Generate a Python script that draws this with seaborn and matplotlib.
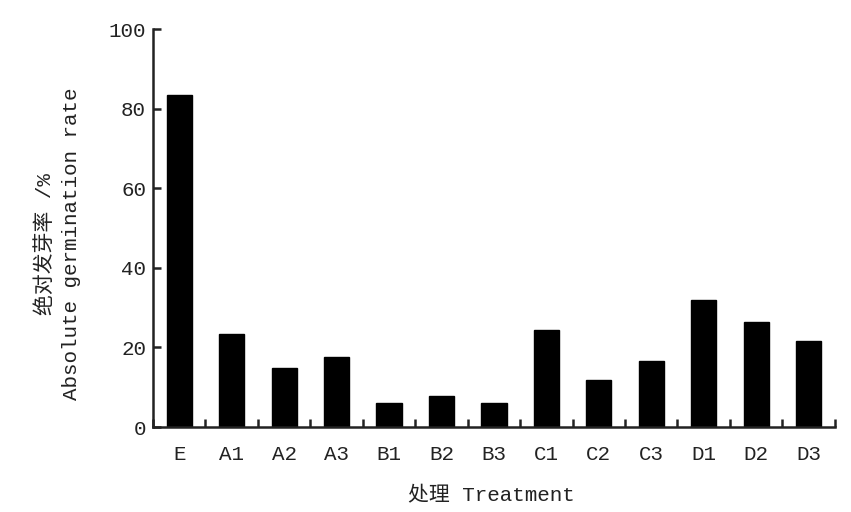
import numpy as np
import pandas as pd
import matplotlib
matplotlib.use('Agg')
import matplotlib.pyplot as plt
import seaborn as sns

# dados
treatments = ['E', 'A1', 'A2', 'A3', 'B1', 'B2', 'B3', 'C1', 'C2', 'C3', 'D1', 'D2', 'D3']
germination = [83.4, 23.5, 14.8, 17.7, 6.0, 7.8, 6.0, 24.4, 11.8, 16.6, 31.9, 26.3, 21.6]
y_ticks = [0, 20, 40, 60, 80, 100]

df = pd.DataFrame({'Treatment': treatments, 'Rate': germination})

sns.set_style('ticks')
plt.rcParams['font.family'] = ['Liberation Mono', 'Noto Sans CJK SC', 'DejaVu Sans']

fig = plt.figure(figsize=(8.51, 5.12), dpi=100)
ax = fig.add_axes([0.1798, 0.166, 0.8012, 0.777])

sns.barplot(data=df, x='Treatment', y='Rate', color='black', width=0.48,
            saturation=1, edgecolor='black', ax=ax)

ax.set_ylim(0, 100)
ax.set_xlim(-0.5, len(treatments) - 0.5)
ax.set_yticks(y_ticks)
ax.set_xticks(np.arange(-0.5, len(treatments)), minor=True)

for s in ['top', 'right']:
    ax.spines[s].set_visible(False)
for s in ['left', 'bottom']:
    ax.spines[s].set_linewidth(1.8)
    ax.spines[s].set_color('#222222')

ax.tick_params(axis='y', direction='in', length=6, width=1.8, labelsize=15, pad=5, colors='#222222')
ax.tick_params(axis='x', which='major', length=0, labelsize=15, pad=13, colors='#222222')
ax.tick_params(axis='x', which='minor', direction='in', length=6, width=1.8, colors='#222222')

ax.set_ylabel('绝对发芽率 /%\nAbsolute germination rate', fontsize=15, linespacing=1.5, color='#222222')
ax.yaxis.set_label_coords(-0.105, 0.46)
ax.set_xlabel('处理 Treatment', fontsize=15, color='#222222')
ax.xaxis.set_label_coords(0.496, -0.15)

plt.savefig('out.png', dpi=100)
